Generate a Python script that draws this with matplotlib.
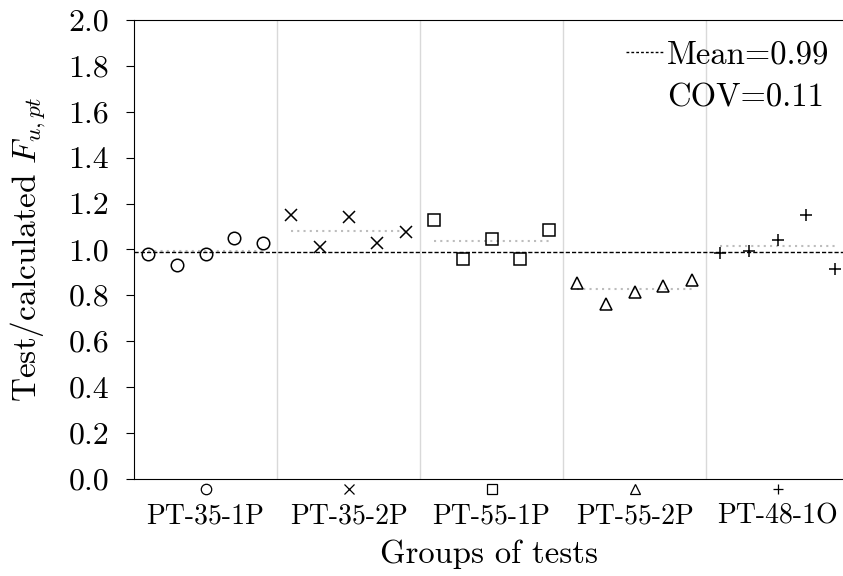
import numpy as np
import matplotlib
matplotlib.use("Agg")
import matplotlib.pyplot as plt
from matplotlib.lines import Line2D

plt.rcParams["font.family"] = "cmr10"
plt.rcParams["mathtext.fontset"] = "cm"
plt.rcParams["axes.unicode_minus"] = False
plt.rcParams["axes.formatter.use_mathtext"] = True

# test groups and their measured/calculated ratios
groups = ["PT-35-1P", "PT-35-2P", "PT-55-1P", "PT-55-2P", "PT-48-1O"]
markers = ["o", "x", "s", "^", "+"]
ratios = [
    [0.98, 0.93, 0.98, 1.05, 1.03],
    [1.15, 1.01, 1.14, 1.03, 1.075],
    [1.13, 0.96, 1.045, 0.96, 1.085],
    [0.855, 0.76, 0.815, 0.84, 0.865],
    [0.985, 0.993, 1.04, 1.148, 0.913],
]
offsets = [0.1, 0.3, 0.5, 0.7, 0.9]
mean_all = 0.99
cov_all = 0.11

fig = plt.figure(figsize=(8.43, 5.76), dpi=100)
ax = fig.add_axes([134 / 843, 0.169, 709 / 843, 0.796])

for i, vals in enumerate(ratios):
    xs = [i + o for o in offsets]
    ax.plot(xs, vals, linestyle="none", marker=markers[i], markersize=9,
            markerfacecolor="none", markeredgecolor="black", markeredgewidth=1.1,
            zorder=3)
    m = np.mean(vals)
    ax.plot([xs[0], xs[-1]], [m, m], color="#bdbdbd", linestyle=(0, (1, 2)),
            linewidth=1.5, zorder=2)
    # symbol below the axis
    ax.plot(i + 0.5, -0.022, marker=markers[i], markersize=7.5,
            markerfacecolor="none", markeredgecolor="black", markeredgewidth=0.9,
            transform=ax.get_xaxis_transform(), clip_on=False)

for s in range(1, len(groups)):
    ax.axvline(s, color="#d9d9d9", linewidth=1, zorder=1)

ax.axhline(mean_all, color="black", linestyle=(0, (3, 1.5)), linewidth=1, zorder=2)

ax.set_xlim(0, 4.958)
ax.set_ylim(0, 2.0)
ax.set_yticks(np.arange(0, 2.01, 0.2))
ax.set_yticklabels([f"{v:.1f}" for v in np.arange(0, 2.01, 0.2)])
ax.set_xticks([i + 0.5 for i in range(len(groups))])
ax.set_xticklabels(groups)
ax.tick_params(axis="x", length=0, pad=18, labelsize=20)
ax.tick_params(axis="y", length=6, direction="out", pad=12, labelsize=23)
ax.spines["right"].set_visible(False)

ax.set_xlabel("Groups of tests", fontsize=23.5, labelpad=7)
ax.set_ylabel(r"Test/calculated $F_{u,pt}$", fontsize=24)
ax.yaxis.set_label_coords(-0.122, 0.5)

handles = [Line2D([], [], color="black", linestyle=(0, (2, 1.5)), linewidth=1),
           Line2D([], [], color="none")]
ax.legend(handles, [f"Mean={mean_all:.2f}", f"COV={cov_all:.2f}"], loc="upper right",
          bbox_to_anchor=(1.013, 1.006),
          frameon=False, fontsize=23.5, handlelength=1.15, handletextpad=0.12,
          labelspacing=0.42, borderaxespad=0.4, borderpad=0.3)

fig.savefig("out.png", dpi=100)
